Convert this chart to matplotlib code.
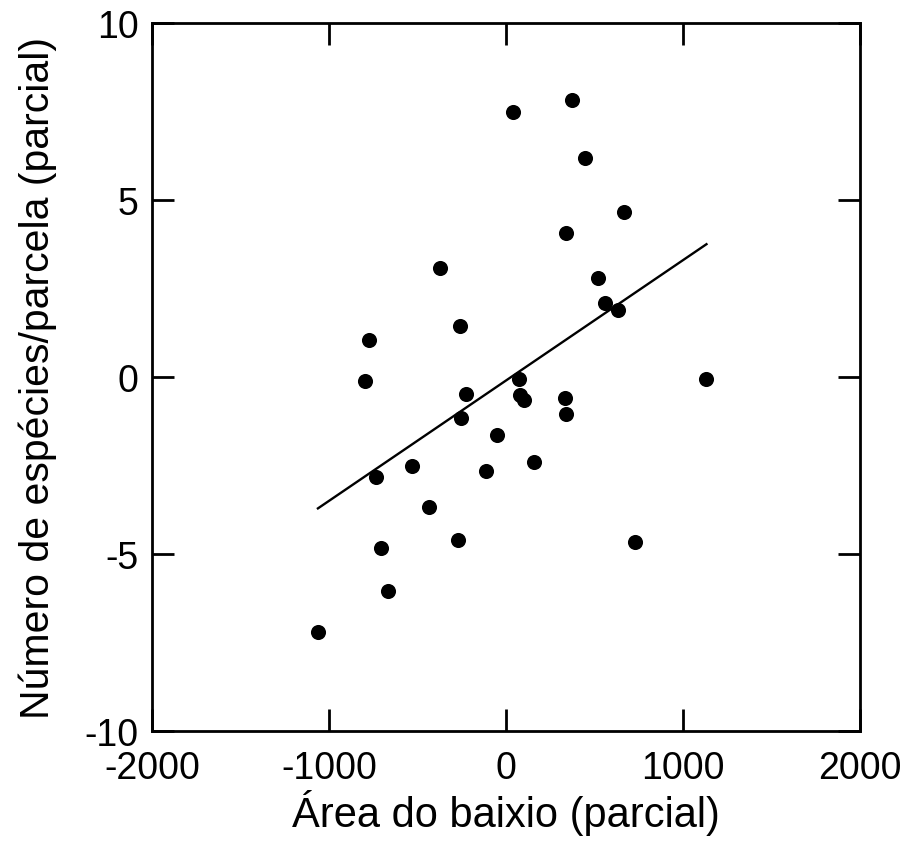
import matplotlib
matplotlib.use("Agg")
import matplotlib.pyplot as plt
import numpy as np

plt.rcParams['font.family'] = ['Liberation Sans', 'DejaVu Sans']

# Partial residuals
area_baixio = [38, 372, 448, 664, 336, -376, 521, 557, 634, -263, -777, -796,
               71, 1132, -225, 76, 103, 335, 336, -257, -54, -533, -738, -112,
               155, -437, -272, -710, -668, -1064, 727]
n_especies = [7.49, 7.83, 6.18, 4.67, 4.06, 3.08, 2.80, 2.09, 1.89, 1.44, 1.05, -0.13,
              -0.06, -0.07, -0.49, -0.51, -0.66, -0.61, -1.06, -1.17, -1.63, -2.51, -2.84, -2.67,
              -2.40, -3.67, -4.61, -4.85, -6.05, -7.22, -4.68]

# Fitted line (slope, intercept)
fit_slope = 0.0034
fit_intercept = -0.1

x_ticks = [-2000, -1000, 0, 1000, 2000]
y_ticks = [-10, -5, 0, 5, 10]

fig = plt.figure(figsize=(9.1, 8.45), dpi=100)
ax = fig.add_axes([0.1674, 0.1341, 0.7777, 0.8375])

ax.scatter(area_baixio, n_especies, s=118, color='black', zorder=3, linewidths=0)

xl = np.array([min(area_baixio), max(area_baixio)])
ax.plot(xl, fit_slope * xl + fit_intercept, color='black', lw=1.7, zorder=2)

ax.set_xlim(-2000, 2000)
ax.set_ylim(-10, 10)
ax.set_xticks(x_ticks)
ax.set_yticks(y_ticks)
ax.set_xticklabels([str(v) for v in x_ticks])
ax.set_yticklabels([str(v) for v in y_ticks])

for s in ax.spines.values():
    s.set_linewidth(2.0)

ax.tick_params(direction='in', length=16, width=2.0, labelsize=27,
               top=True, right=True, pad=14)
ax.tick_params(axis='y', pad=10)

ax.set_xlabel('Área do baixio (parcial)', fontsize=30, labelpad=2)
ax.set_ylabel('Número de espécies/parcela (parcial)', fontsize=29.5, labelpad=20)

fig.savefig('out.png', dpi=100)
